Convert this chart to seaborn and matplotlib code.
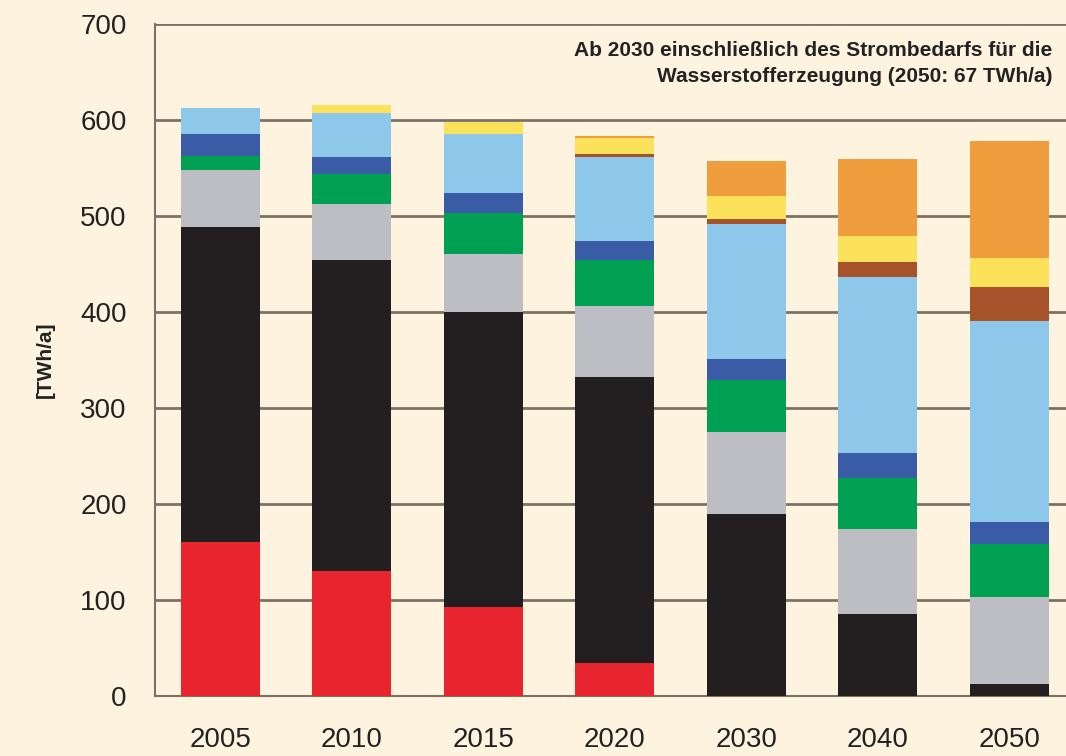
import numpy as np
import pandas as pd
import matplotlib
matplotlib.use("Agg")
import matplotlib.pyplot as plt
import seaborn as sns

# Stromerzeugung nach Energieträgern [TWh/a], Segmente von unten nach oben
years = ["2005", "2010", "2015", "2020", "2030", "2040", "2050"]
kernenergie = [161, 130, 93, 35, 0, 0, 0]
kohle = [328, 324, 307, 298, 190, 86, 13]
gas_sonstige = [59, 59, 61, 73, 85, 88, 90]
biomasse = [15, 31, 42, 48, 54, 53, 56]
wasser = [23, 18, 21, 20, 22, 26, 22]
wind = [27, 46, 62, 88, 141, 184, 210]
geothermie = [0, 0, 0, 3, 5, 15, 35]
photovoltaik = [0, 8, 12, 16, 24, 27, 30]
import_ee = [0, 0, 0, 3, 37, 81, 122]

layers = [kernenergie, kohle, gas_sonstige, biomasse, wasser, wind,
          geothermie, photovoltaik, import_ee]
colors = ["#E8252F", "#231F20", "#BDBEC3", "#00A052", "#3A5BA5",
          "#8DC8EA", "#A6522A", "#FCE15A", "#F09D3E"]

bg = "#FDF3DF"
grid_c = "#7A7265"

sns.set_theme(style="white")
plt.rcParams["font.family"] = ["Liberation Sans Narrow", "Liberation Sans", "DejaVu Sans"]

fig = plt.figure(figsize=(10.66, 7.56), dpi=100, facecolor=bg)
ax = fig.add_axes([0.145, 0.079, 0.855, 0.889])
ax.set_facecolor(bg)

bottom = np.zeros(len(years))
for vals, col in zip(layers, colors):
    df = pd.DataFrame({"Jahr": years, "TWh": vals})
    sns.barplot(data=df, x="Jahr", y="TWh", bottom=bottom, color=col,
                saturation=1, width=0.6, linewidth=0, ax=ax, zorder=3)
    bottom = bottom + np.array(vals)

ax.set_ylim(0, 700)
ax.set_yticks(range(0, 701, 100))
ax.set_xlim(-0.5, 6.43)
ax.yaxis.grid(True, color=grid_c, linewidth=2, zorder=0)
ax.set_axisbelow(True)

for s in ["top", "right"]:
    ax.spines[s].set_visible(False)
for s in ["left", "bottom"]:
    ax.spines[s].set_color(grid_c)
    ax.spines[s].set_linewidth(1.5)

ax.set_xticks(np.arange(0.5, 6.5, 1), minor=True)
ax.tick_params(axis="x", which="major", length=0, pad=22, labelsize=20, labelcolor="#222222")
ax.tick_params(axis="x", which="minor", length=8, width=1.5, color=grid_c, direction="out")
ax.tick_params(axis="y", length=8, width=1.5, color=grid_c, direction="out",
               pad=12, labelsize=20, labelcolor="#222222")

ax.set_xlabel("")
ax.set_ylabel("[TWh/a]", fontsize=15, fontweight="bold", color="#222222", labelpad=18)

ax.text(0.985, 0.975, "Ab 2030 einschließlich des Strombedarfs für die\nWasserstofferzeugung (2050: 67 TWh/a)",
        transform=ax.transAxes, ha="right", va="top", fontsize=15, fontweight="bold",
        color="#222222", linespacing=1.45, zorder=5)

fig.savefig("out.png", dpi=100, facecolor=bg)
